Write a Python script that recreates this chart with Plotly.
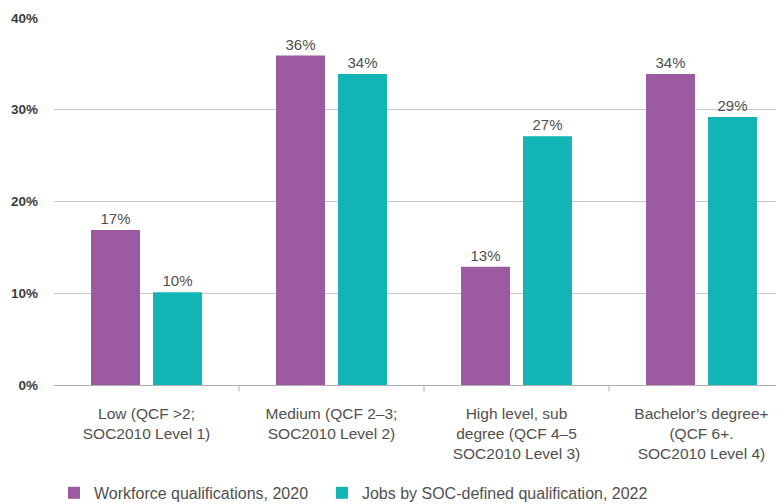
import plotly.graph_objects as go

categories = [
    "Low (QCF >2;<br>SOC2010 Level 1)",
    "Medium (QCF 2–3;<br>SOC2010 Level 2)",
    "High level, sub<br>degree (QCF 4–5<br>SOC2010 Level 3)",
    "Bachelor’s degree+<br>(QCF 6+.<br>SOC2010 Level 4)",
]
workforce_2020 = [16.9, 35.9, 12.9, 33.9]
jobs_2022 = [10.1, 33.9, 27.1, 29.2]
workforce_labels = ["17%", "36%", "13%", "34%"]
jobs_labels = ["10%", "34%", "27%", "29%"]
y_ticks = [0, 10, 20, 30, 40]
y_tick_labels = ["0%", "10%", "20%", "30%", "40%"]

PURPLE = "#9c5ba0"
TEAL = "#12b5b5"
FONT = "Liberation Sans"
TXT = "#505050"

x = list(range(len(categories)))

fig = go.Figure()
fig.add_trace(go.Bar(
    x=x, y=workforce_2020, name="Workforce qualifications, 2020",
    marker=dict(color=PURPLE, line=dict(width=0)),
    text=workforce_labels, textposition="outside",
    textfont=dict(size=15, color=TXT, family=FONT),
    cliponaxis=False, hoverinfo="skip", legend="legend",
))
fig.add_trace(go.Bar(
    x=x, y=jobs_2022, name="Jobs by SOC-defined qualification, 2022",
    marker=dict(color=TEAL, line=dict(width=0)),
    text=jobs_labels, textposition="outside",
    textfont=dict(size=15, color=TXT, family=FONT),
    cliponaxis=False, hoverinfo="skip", legend="legend2",
))

# category dividers below the axis
for i in range(len(categories) - 1):
    fig.add_shape(type="line", xref="x", yref="paper",
                  x0=i + 0.5, x1=i + 0.5, y0=0, y1=-0.018,
                  line=dict(color="#b0b0b0", width=1))

legend_common = dict(orientation="h", xanchor="left", y=-0.294, yanchor="middle",
                     font=dict(size=16, color=TXT, family=FONT),
                     itemsizing="constant", bgcolor="rgba(0,0,0,0)")

fig.update_layout(
    width=784, height=504,
    margin=dict(l=46, r=8, t=10, b=127, autoexpand=False),
    paper_bgcolor="white", plot_bgcolor="white",
    barmode="group", bargap=0.33, bargroupgap=0.21,
    font=dict(family=FONT, color=TXT, size=15),
    showlegend=True,
    legend=dict(x=0.0, **legend_common),
    legend2=dict(x=0.367, **legend_common),
    xaxis=dict(
        tickmode="array", tickvals=x, ticktext=categories,
        range=[-0.5, 3.446], showgrid=False, zeroline=False,
        showline=True, linecolor="#b0b0b0", linewidth=1,
        ticks="", tickfont=dict(size=15.5, color=TXT, family=FONT),
        ticklabelstandoff=14, automargin=False, fixedrange=True,
    ),
    yaxis=dict(
        tickmode="array", tickvals=y_ticks, ticktext=y_tick_labels,
        range=[0, 40], showgrid=True, gridcolor="#c8c8c8", gridwidth=1,
        zeroline=False, showline=False, ticks="",
        tickfont=dict(size=13.5, color="#3c3c3c", family=FONT, weight="bold"),
        ticklabelstandoff=15, automargin=False, fixedrange=True,
    ),
)

fig.write_html("out.html")
